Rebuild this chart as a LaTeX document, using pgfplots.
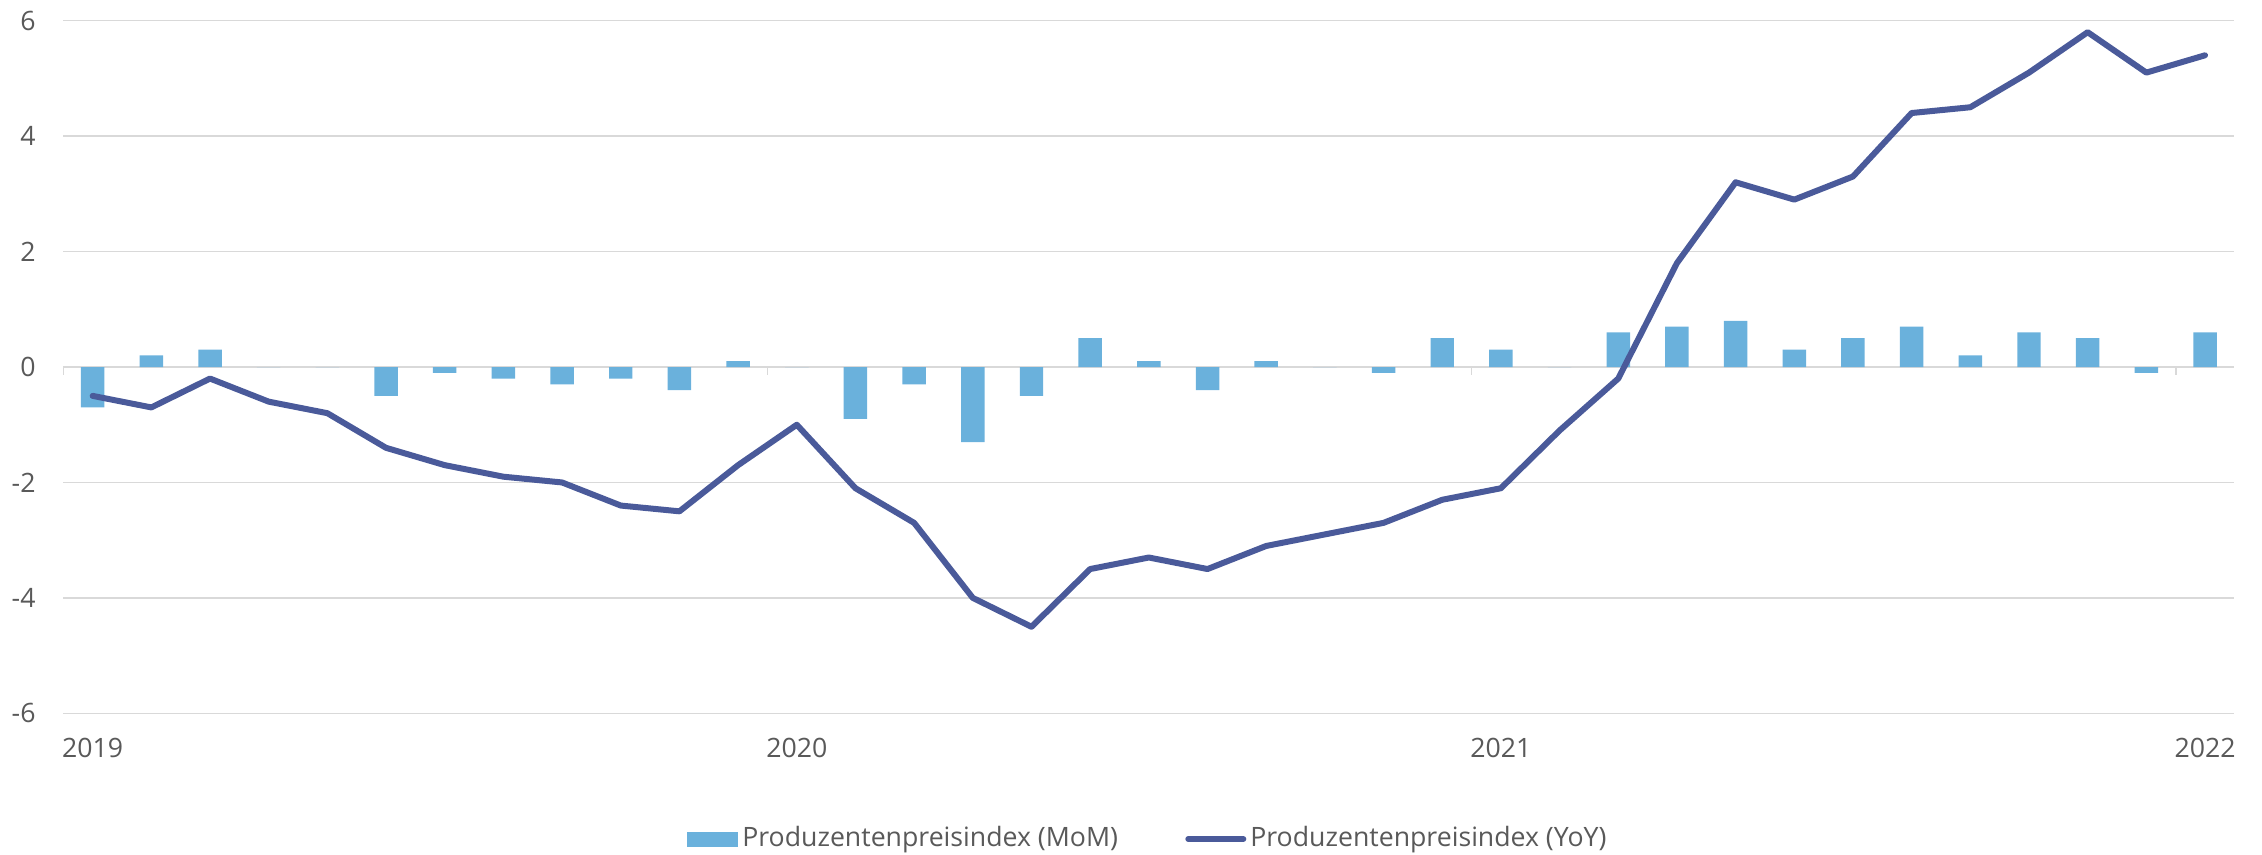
\documentclass[border=0pt]{standalone}
\usepackage{pgfplots}
\pgfplotsset{compat=1.18}
\usepackage{fontspec}
\setmainfont{Open Sans}
\definecolor{barc}{HTML}{6AB1DC}
\definecolor{linec}{HTML}{4A5A9A}
\definecolor{gridc}{HTML}{D9D9D9}
\definecolor{textc}{HTML}{595959}
\begin{document}
\begin{tikzpicture}
\begin{axis}[name=ax,
scale only axis,
width=651.3pt,
height=207.8pt,
xmin=-0.5, xmax=36.5,
ymin=-6, ymax=6,
ytick={-6,-4,...,6},
xtick={0,12,24,36},
xticklabels={2019,2020,2021,2022},
axis line style={draw=none},
tick style={draw=none},
ymajorgrids,
grid style={gridc,line width=0.5pt},
font=\fontsize{8}{10}\selectfont,
tick label style={textc},
/pgf/number format/assume math mode=true,
yticklabel style={xshift=-4.8pt},
xticklabel style={yshift=-4pt},
clip=false,
legend columns=2,
legend style={draw=none,fill=none,at={(0.5,-0.1814)},anchor=center,
  font=\fontsize{8}{10}\selectfont\color{textc},
  /tikz/every even column/.append style={column sep=19pt},
  nodes={inner sep=1.2pt}},
]
\addplot[ybar,bar width=0.4,fill=barc,draw=none,
  legend image code/.code={\fill[barc] (0pt,-2.25pt) rectangle (15.3pt,2.25pt);}]
coordinates{(0,-0.7)(1,0.2)(2,0.3)(3,0)(4,0)(5,-0.5)(6,-0.1)(7,-0.2)(8,-0.3)(9,-0.2)(10,-0.4)(11,0.1)
(12,0)(13,-0.9)(14,-0.3)(15,-1.3)(16,-0.5)(17,0.5)(18,0.1)(19,-0.4)(20,0.1)(21,0)(22,-0.1)(23,0.5)
(24,0.3)(25,0)(26,0.6)(27,0.7)(28,0.8)(29,0.3)(30,0.5)(31,0.7)(32,0.2)(33,0.6)(34,0.5)(35,-0.1)(36,0.6)};
\addlegendentry{Produzentenpreisindex (MoM)}
\addplot[linec,line width=1.8pt,line join=round,line cap=round,mark=none,
  legend image code/.code={\draw[linec,line width=1.8pt,line cap=round] (0pt,0pt) -- (16.5pt,0pt);}]
coordinates{(0,-0.5)(1,-0.7)(2,-0.2)(3,-0.6)(4,-0.8)(5,-1.4)(6,-1.7)(7,-1.9)(8,-2.0)(9,-2.4)(10,-2.5)(11,-1.7)
(12,-1.0)(13,-2.1)(14,-2.7)(15,-4.0)(16,-4.5)(17,-3.5)(18,-3.3)(19,-3.5)(20,-3.1)(21,-2.9)(22,-2.7)(23,-2.3)
(24,-2.1)(25,-1.1)(26,-0.2)(27,1.8)(28,3.2)(29,2.9)(30,3.3)(31,4.4)(32,4.5)(33,5.1)(34,5.8)(35,5.1)(36,5.4)};
\addlegendentry{Produzentenpreisindex (YoY)}
\foreach \t in {-0.5,11.5,23.5,35.5}{
  \edef\temp{\noexpand\draw[gridc,line width=0.5pt] (axis cs:\t,0) -- ([yshift=-2.4pt]axis cs:\t,0);}
  \temp
}
\end{axis}
\pgfresetboundingbox
\useasboundingbox ([shift={(-19pt,-42.2pt)}]ax.south west) rectangle ([shift={(8.3pt,6.2pt)}]ax.north east);
\end{tikzpicture}
\end{document}
